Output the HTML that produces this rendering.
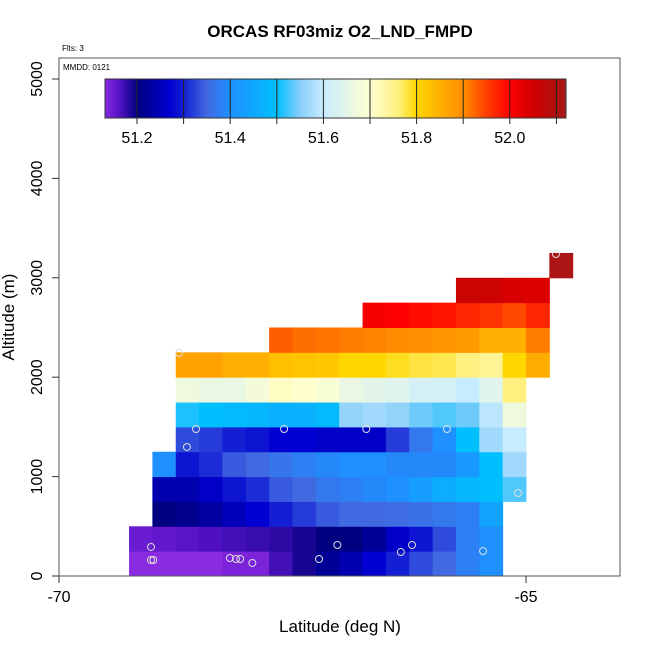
<!DOCTYPE html>
<html><head><meta charset="utf-8"><style>
html,body{margin:0;padding:0;background:#fff;}
svg text{font-family:"Liberation Sans",sans-serif;}
</style></head><body>
<svg id="chart" width="650" height="650" xmlns="http://www.w3.org/2000/svg">
<text x="340" y="37" text-anchor="middle" font-size="17" font-weight="bold">ORCAS RF03miz O2_LND_FMPD</text>
<text x="62" y="51" font-size="8">Flts: 3</text>
<g id="cells"></g>
<g id="pts"></g>
<rect x="59" y="58" width="561" height="518" fill="none" stroke="#555" stroke-width="1"/>
<text x="63" y="70" font-size="8">MMDD: 0121</text>
<g id="cbar"></g>
<g id="axes"></g>
<text x="340" y="632" text-anchor="middle" font-size="17">Latitude (deg N)</text>
<text transform="translate(14,317) rotate(-90)" text-anchor="middle" font-size="17">Altitude (m)</text>
</svg>
<script>
// Data
const rowAltStart = [0,250,500,750,1000,1250,1500,1750,2000,2250,2500,2750,3000];
const rowFirstCol = [0,0,1,1,1,2,2,2,2,6,10,14,18];
const row0 = [51.13,51.13,51.13,51.13,51.14,51.14,51.17,51.19,51.22,51.24,51.27,51.30,51.33,51.35,51.38,51.40];
const row1 = [51.15,51.155,51.16,51.165,51.17,51.175,51.18,51.19,51.20,51.20,51.22,51.26,51.29,51.33,51.38,51.40];
const row2 = [51.20,51.21,51.23,51.25,51.27,51.30,51.32,51.34,51.35,51.35,51.355,51.36,51.37,51.38,51.44];
const row3 = [51.24,51.24,51.26,51.29,51.31,51.34,51.35,51.37,51.38,51.39,51.40,51.43,51.46,51.48,51.50,51.53];
const row4 = [51.40,51.29,51.31,51.34,51.35,51.365,51.38,51.39,51.40,51.40,51.39,51.39,51.39,51.42,51.50,51.57];
const row5 = [51.33,51.32,51.30,51.29,51.27,51.27,51.26,51.26,51.26,51.32,51.37,51.40,51.50,51.57,51.60];
const row6 = [51.51,51.50,51.49,51.48,51.47,51.47,51.49,51.56,51.57,51.56,51.54,51.53,51.54,51.59,51.67];
const row7 = [51.67,51.66,51.66,51.68,51.71,51.70,51.69,51.66,51.65,51.64,51.62,51.62,51.60,51.64,51.76];
const row8 = [51.87,51.87,51.85,51.85,51.83,51.825,51.82,51.80,51.80,51.79,51.78,51.775,51.76,51.745,51.80,51.855];
const row9 = [51.93,51.92,51.915,51.91,51.905,51.90,51.895,51.89,51.88,51.85,51.85,51.91];
const row10 = [52.01,52.00,51.99,51.985,51.97,51.96,51.945,51.97];
const row11 = [52.06,52.055,52.04,52.035];
const row12 = [52.11];
const ptLat = [-68.533,-68.63,-67.59,-66.71,-65.846,-65.086,-69.015,-69.015,-68.99,-68.17,-68.105,-68.06,-67.93,-67.216,-67.02,-66.34,-66.22,-65.46,-68.715,-64.68];
const ptAlt = [1479,1298,1479,1479,1479,835,292,161,161,181,171,171,131,171,312,241,312,251,2243,3239];
const cbTicks = [51.2,51.4,51.6,51.8,52.0];
const xTicks = [-70,-65];
const yTicks = [0,1000,2000,3000,4000,5000];

const rows=[row0,row1,row2,row3,row4,row5,row6,row7,row8,row9,row10,row11,row12];
const NS="http://www.w3.org/2000/svg";
const xS = lat => 59 + (lat + 70) * 93.4;
const yS = alt => 576 - alt * 0.0994;
const cbX = v => 137 + (v - 51.2) * 466;
const stops=[[51.13,[138,43,226]],[51.16,[90,20,200]],[51.2,[0,0,128]],[51.27,[0,0,210]],[51.3,[20,30,210]],[51.35,[65,105,225]],[51.4,[30,144,255]],[51.5,[0,191,255]],[51.55,[135,206,250]],[51.6,[200,236,255]],[51.7,[255,255,208]],[51.76,[255,240,128]],[51.8,[255,215,0]],[51.85,[255,176,0]],[51.9,[255,140,0]],[51.95,[255,64,0]],[52.0,[255,0,0]],[52.05,[208,0,0]],[52.1,[176,16,16]],[52.13,[165,32,32]]];
function col(v){
  if(v<=stops[0][0]) return `rgb(${stops[0][1]})`;
  for(let i=1;i<stops.length;i++){ if(v<=stops[i][0]){const a=stops[i-1],b=stops[i],t=(v-a[0])/(b[0]-a[0]);
    return 'rgb('+a[1].map((c,k)=>Math.round(c+(b[1][k]-c)*t)).join(',')+')';}}
  return `rgb(${stops[stops.length-1][1]})`;
}
function mk(tag,attrs,parent){const e=document.createElementNS(NS,tag);for(const k in attrs)e.setAttribute(k,attrs[k]);parent.appendChild(e);return e;}
const gc=document.getElementById('cells');
rows.forEach((r,ri)=>{r.forEach((v,j)=>{const c=rowFirstCol[ri]+j;const lat0=-69.25+c*0.25;
  const x0=xS(lat0),x1=xS(lat0+0.25),y0=yS(rowAltStart[ri]+250),y1=yS(rowAltStart[ri]);
  const e=mk('rect',{x:x0,y:y0,width:x1-x0+0.5,height:y1-y0+0.5,fill:col(v)},gc);
  
  });});
const gp=document.getElementById('pts');
ptLat.forEach((la,i)=>{const e=mk('circle',{cx:xS(la),cy:yS(ptAlt[i]),r:3.5,fill:'none',stroke:'#ddd','stroke-width':1},gp);
  
  });
const gb=document.getElementById('cbar');
for(let x=105;x<566;x++){const v=51.2+(x+0.5-137)/466;const e=mk('rect',{x:x,y:79,width:1.2,height:39,fill:col(v)},gb);}
for(let k=0;k<=9;k++){const v=51.2+k*0.1;const x=cbX(v);mk('line',{x1:x,x2:x,y1:79,y2:124,stroke:'#222','stroke-width':1},gb);}
mk('rect',{x:105,y:79,width:461,height:39,fill:'none',stroke:'#333','stroke-width':1},gb);
cbTicks.forEach(v=>{const t=mk('text',{x:cbX(v),y:143,'text-anchor':'middle','font-size':16},gb);t.textContent=v.toFixed(1);
  
  });
const ga=document.getElementById('axes');
xTicks.forEach(v=>{const x=xS(v);mk('line',{x1:x,x2:x,y1:576,y2:583,stroke:'#333'},ga);
  const t=mk('text',{x:x,y:602,'text-anchor':'middle','font-size':16},ga);t.textContent=v;
  
  });
yTicks.forEach(v=>{const y=yS(v);mk('line',{x1:52,x2:59,y1:y,y2:y,stroke:'#333'},ga);
  const t=mk('text',{transform:`translate(42,${y}) rotate(-90)`,'text-anchor':'middle','font-size':16},ga);t.textContent=v;
  
  });
</script>
</body></html>
